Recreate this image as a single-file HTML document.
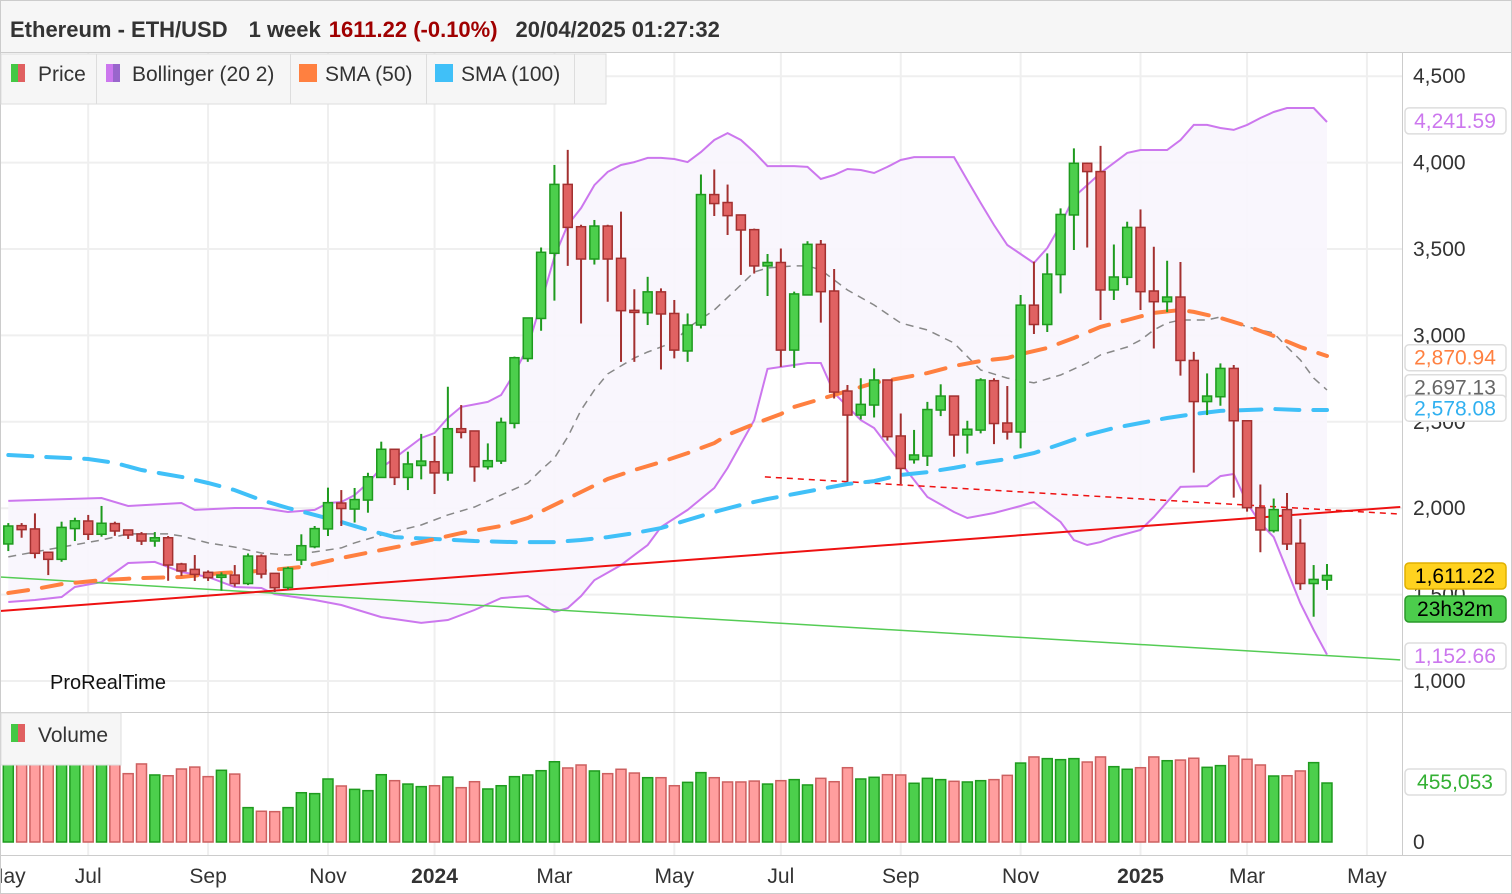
<!DOCTYPE html>
<html><head><meta charset="utf-8"><style>
html,body{margin:0;padding:0;background:#fff;}
svg{display:block;font-family:"Liberation Sans",sans-serif;}
</style></head><body>
<svg id="chart" width="1512" height="894" viewBox="0 0 1512 894" xmlns="http://www.w3.org/2000/svg">
  <rect x="0" y="0" width="1512" height="894" fill="#fff"/>
  <g id="grid"></g>
  <g id="bands"></g>
  <g id="trend"></g>
  <g id="mas"></g>
  <g id="candles"></g>
  <g id="vol"></g>
  <g id="axes"></g>

  <line x1="1402.5" y1="53" x2="1402.5" y2="856" stroke="#ccc"/>
  <line x1="0" y1="712.5" x2="1512" y2="712.5" stroke="#ccc"/>
  <line x1="0" y1="855.5" x2="1512" y2="855.5" stroke="#ccc"/>
  <rect x="0.5" y="0.5" width="1511" height="893" fill="none" stroke="#ccc"/>

  <g>
    <rect x="1" y="1" width="1510" height="51" fill="#f6f6f6"/>
    <line x1="0" y1="52.5" x2="1512" y2="52.5" stroke="#ccc"/>
    <text x="10" y="37" font-size="22" font-weight="bold" fill="#333">Ethereum - ETH/USD<tspan dx="21">1 week</tspan><tspan dx="8" fill="#a00000">1611.22 (-0.10%)</tspan><tspan dx="18">20/04/2025 01:27:32</tspan></text>
  </g>

  <g>
    <rect x="1" y="54" width="605" height="50" fill="#f6f6f6" stroke="#ddd"/>
    <g>
      <rect x="11" y="64" width="7" height="18" fill="#44c844"/><rect x="18" y="64" width="7" height="18" fill="#e06060"/>
      <text x="38" y="81" font-size="21" fill="#333">Price</text>
      <line x1="96.5" y1="54" x2="96.5" y2="104" stroke="#ddd"/>
    </g>
    <g>
      <rect x="106" y="64" width="7" height="18" fill="#cc77ee"/><rect x="113" y="64" width="7" height="18" fill="#9966cc"/>
      <text x="132" y="81" font-size="21" fill="#333">Bollinger (20 2)</text>
      <line x1="290.5" y1="54" x2="290.5" y2="104" stroke="#ddd"/>
    </g>
    <g>
      <rect x="299" y="64" width="18" height="18" fill="#ff8040"/>
      <text x="325" y="81" font-size="21" fill="#333">SMA (50)</text>
      <line x1="426.5" y1="54" x2="426.5" y2="104" stroke="#ddd"/>
    </g>
    <g>
      <rect x="435" y="64" width="18" height="18" fill="#40c0f8"/>
      <text x="461" y="81" font-size="21" fill="#333">SMA (100)</text>
      <line x1="574.5" y1="54" x2="574.5" y2="104" stroke="#ddd"/>
    </g>
  </g>

  <g>
    <rect x="1" y="713" width="120" height="52" fill="#f6f6f6" stroke="#ddd"/>
    <rect x="11" y="724" width="7" height="18" fill="#44c844"/><rect x="18" y="724" width="7" height="18" fill="#e06060"/>
    <text x="38" y="742" font-size="21" fill="#333">Volume</text>
  </g>

  <text x="50" y="689" font-size="20" fill="#111">ProRealTime</text>

  <g id="tags"></g>

<script>
const open  = [1793,1899,1880,1745,1704,1882,1926,1849,1911,1874,1851,1810,1829,1677,1646,1629,1600,1613,1564,1723,1623,1541,1700,1777,1880,2030,1995,2047,2178,2341,2178,2247,2269,2204,2460,2447,2240,2273,2491,2866,3098,3475,3874,3629,3442,3633,3446,3145,3131,3252,3127,2910,3060,3815,3769,3697,3612,3402,3422,2915,3234,3527,3257,2678,2539,2597,2742,2418,2281,2302,2568,2649,2424,2452,2738,2493,2441,3175,3063,3352,3697,3996,3948,3263,3336,3625,3257,3195,3222,2855,2617,2645,2809,2506,2003,1870,1992,1797,1564,1584];
const close = [1897,1876,1739,1704,1889,1927,1849,1913,1868,1845,1810,1829,1671,1637,1617,1598,1613,1564,1723,1619,1540,1652,1783,1882,2032,1998,2050,2182,2341,2178,2256,2273,2204,2460,2439,2240,2275,2497,2871,3101,3481,3874,3625,3442,3633,3442,3143,3133,3252,3124,2915,3060,3815,3763,3693,3610,3402,3422,2915,3240,3527,3253,2672,2539,2601,2742,2414,2230,2308,2571,2649,2424,2457,2742,2490,2441,3175,3063,3355,3700,3996,3948,3263,3338,3625,3253,3195,3222,2855,2617,2649,2809,2506,2003,1874,1992,1793,1564,1588,1611];
const high  = [1914,1914,1970,1745,1922,1945,1961,2013,1922,1874,1862,1862,1839,1684,1729,1640,1629,1671,1738,1733,1623,1661,1849,1897,2119,2105,2117,2205,2385,2341,2327,2430,2418,2703,2597,2447,2375,2524,2877,3101,3509,3986,4074,3640,3668,3640,3716,3267,3339,3272,3205,3127,3931,3960,3873,3697,3618,3471,3503,3253,3545,3552,3384,2713,2752,2809,2742,2548,2453,2615,2717,2649,2506,2752,2752,2707,3234,3427,3475,3735,4082,4000,4097,3526,3658,3729,3513,3432,3425,2905,2780,2838,2829,2506,2137,2056,2088,1937,1671,1677];
const low   = [1752,1829,1710,1613,1690,1810,1816,1835,1840,1822,1787,1777,1580,1608,1579,1579,1523,1546,1555,1594,1515,1529,1671,1768,1839,1897,1917,1974,2178,2134,2105,2167,2082,2159,2404,2153,2224,2256,2462,2847,3027,3201,3402,3069,3410,3195,2847,2847,3060,2803,2867,2847,3040,3691,3581,3350,3358,3228,2818,2812,3234,3074,2635,2153,2514,2525,2391,2140,2258,2244,2533,2298,2316,2433,2371,2397,2346,3008,3020,3243,3494,3509,3089,3205,3291,3147,2924,3135,2767,2206,2539,2593,2061,1980,1745,1859,1758,1527,1372,1527];
const volumeK = [640,640,640,640,640,640,640,640,640,527,602,517,511,563,578,504,553,524,265,237,234,265,380,373,486,432,406,396,519,473,447,427,434,501,419,465,409,434,504,517,550,619,571,594,548,527,561,532,496,496,434,460,535,496,463,463,470,447,473,481,440,491,465,573,486,499,519,517,453,491,481,468,463,473,481,514,609,656,643,635,643,617,656,581,561,573,656,627,632,646,576,589,663,638,594,509,511,548,612,455];

const bbUpperIdx = [0,7,9,13,14,17,19,21,23,24,25,26,27,28,29,31,32,33,34,36,37,38,39,40,41,42,43,44,45,46,47,48,49,50,51,52,53,54,55,56,57,58,59,60,61,62,63,64,65,66,67,68,69,70,71,72,73,74,75,76,77,78,79,80,81,82,83,84,85,86,87,88,89,90,91,92,93,94,95,96,97,98,99];
const bbUpperVal = [2042,2059,2013,2030,1990,2001,2001,1978,1990,2030,2036,2076,2146,2233,2290,2406,2435,2522,2586,2615,2655,2782,2933,3188,3454,3639,3737,3870,3946,3986,4003,4027,4027,4021,4003,4061,4131,4171,4131,4061,3980,3980,3980,3975,3905,3928,3963,3957,3940,3975,4015,4032,4032,4032,4032,3899,3766,3639,3523,3471,3419,3506,3639,3801,3870,3940,3998,4056,4073,4073,4073,4131,4218,4218,4200,4189,4218,4258,4293,4316,4316,4316,4235];
const bbLowerIdx = [0,2,4,5,7,9,11,13,15,17,19,20,21,23,25,28,31,33,35,37,39,41,42,43,44,46,48,49,51,53,54,56,57,60,61,62,64,65,67,69,71,72,74,76,77,79,80,81,82,83,85,86,88,90,91,92,93,94,95,96,97,98,99];
const bbLowerVal = [1457,1469,1486,1544,1573,1683,1689,1631,1602,1544,1538,1503,1492,1469,1440,1370,1336,1353,1411,1480,1492,1399,1422,1492,1584,1671,1787,1891,1990,2117,2233,2510,2806,2840,2840,2667,2510,2464,2262,2065,1978,1943,1972,2013,2036,1920,1816,1787,1804,1833,1874,1949,2123,2128,2186,2198,2030,1914,1833,1642,1451,1295,1153];
const bbMidIdx = [0,2,4,7,9,12,13,15,17,19,21,23,25,26,28,31,33,35,37,39,40,41,42,43,44,45,47,48,50,51,53,55,56,57,59,60,61,63,65,67,69,71,73,75,77,79,81,82,84,85,86,87,88,90,91,92,93,94,95,96,97,98,99];
const bbMidVal = [1718,1747,1775,1816,1851,1851,1839,1799,1775,1741,1729,1747,1770,1799,1845,1903,1961,2007,2076,2146,2221,2290,2412,2568,2684,2777,2869,2904,2962,3043,3147,3292,3367,3390,3402,3402,3379,3263,3176,3072,3031,2956,2800,2753,2725,2771,2840,2887,2933,2973,3031,3072,3089,3089,3107,3078,3049,3031,3014,2933,2858,2753,2684];
const sma50Idx = [0,2,4,7,10,13,16,19,22,25,28,31,34,37,39,41,43,45,47,49,51,53,54,56,58,59,61,63,65,67,69,71,73,75,76,78,80,82,84,86,88,89,91,93,95,97,99];
const sma50Val = [1509,1532,1561,1584,1596,1602,1625,1637,1660,1712,1758,1804,1856,1897,1943,2019,2094,2169,2221,2267,2319,2377,2424,2487,2545,2586,2632,2678,2725,2753,2782,2823,2852,2869,2892,2927,2985,3049,3089,3130,3147,3136,3101,3054,2997,2933,2881];
const sma100Idx = [0,3,6,8,10,13,15,17,19,21,23,25,27,29,32,35,38,41,43,45,47,49,51,53,55,57,59,61,63,65,67,69,71,73,75,77,79,81,83,85,87,89,91,93,95,97,99];
const sma100Val = [2308,2296,2285,2262,2221,2181,2146,2105,2047,2001,1961,1920,1874,1833,1822,1810,1804,1804,1816,1833,1856,1885,1932,1978,2019,2053,2082,2111,2140,2157,2192,2209,2233,2262,2285,2319,2371,2424,2464,2493,2522,2545,2563,2568,2574,2568,2568];
const redTrend = [[-0.62,1405],[104.5,2007]];
const greenTrend = [[-0.62,1602],[104.5,1122]];
const redDashTrend = [[56.8,2181],[104.5,1966]];
const priceTicks = [1000,1500,2000,2500,3000,3500,4000,4500];
const priceTickLabels = ["1,000","1,500","2,000","2,500","3,000","3,500","4,000","4,500"];
const monthTicks = [6.0,15.0,24.0,32.0,41.0,50.0,58.0,67.0,76.0,85.0,93.0,102.0];
const monthLabels = ["Jul","Sep","Nov","2024","Mar","May","Jul","Sep","Nov","2025","Mar","May"];

const NS='http://www.w3.org/2000/svg';
const X = i => 8.3 + 13.32*i;
const Y = v => 681 - (v-1000)*0.1728;
const YV = k => 842 - k/7.713;
function mk(tag, attrs, parent){const e=document.createElementNS(NS,tag);for(const k in attrs)e.setAttribute(k,attrs[k]);parent.appendChild(e);return e;}
const g = id => document.getElementById(id);

const grid=g('grid');
priceTicks.forEach(v=>{const l=mk('line',{x1:0,x2:1402,y1:Y(v),y2:Y(v),stroke:'#efefef','stroke-width':2},grid);

});
monthTicks.forEach(t=>{const l=mk('line',{x1:X(t),x2:X(t),y1:53,y2:855,stroke:'#efefef','stroke-width':2},grid);

});

const bands=g('bands');
const pts=(idx,val)=>idx.map((i,k)=>X(i).toFixed(1)+','+Y(val[k]).toFixed(1));
const fillPts=pts(bbUpperIdx,bbUpperVal).concat(pts(bbLowerIdx,bbLowerVal).reverse());
const bf=mk('polygon',{points:fillPts.join(' '),fill:'#f8f5fd',opacity:0.9},bands);


const bu=mk('polyline',{points:pts(bbUpperIdx,bbUpperVal).join(' '),fill:'none',stroke:'#cc77ee','stroke-width':2},bands);


const bl=mk('polyline',{points:pts(bbLowerIdx,bbLowerVal).join(' '),fill:'none',stroke:'#cc77ee','stroke-width':2},bands);


const bm=mk('polyline',{points:pts(bbMidIdx,bbMidVal).join(' '),fill:'none',stroke:'#888','stroke-width':1.5,'stroke-dasharray':'8 6'},bands);



const tr=g('trend');
const tl=(p,st,w,d)=>{const l=mk('line',{x1:X(p[0][0]),y1:Y(p[0][1]),x2:X(p[1][0]),y2:Y(p[1][1]),stroke:st,'stroke-width':w},tr);if(d)l.setAttribute('stroke-dasharray',d);return l;};
const t1=tl(greenTrend,'#55cc55',1.5,null);


const t2=tl(redTrend,'#ee1111',2,null);


const t3=tl(redDashTrend,'#ee1111',1.5,'6 5');



const mas=g('mas');
const m100=mk('polyline',{points:pts(sma100Idx,sma100Val).join(' '),fill:'none',stroke:'#40c0f8','stroke-width':4,'stroke-dasharray':'24 14','stroke-linecap':'round'},mas);


const m50=mk('polyline',{points:pts(sma50Idx,sma50Val).join(' '),fill:'none',stroke:'#ff8040','stroke-width':4,'stroke-dasharray':'20 14','stroke-linecap':'round'},mas);



const cg=g('candles');
open.forEach((o,i)=>{
  const c=close[i], up=c>=o, x=X(i);
  const dark=up?'#1e9a1e':'#a33030', fill=up?'#4ccf4c':'#e06262';
  const grp=mk('g',{},cg);
  
  
  mk('line',{x1:x,x2:x,y1:Y(high[i]),y2:Y(low[i]),stroke:dark,'stroke-width':2},grp);
  const top=Y(Math.max(o,c)), h=Math.max(Math.abs(Y(o)-Y(c)),2);
  mk('rect',{x:x-4.5,y:top,width:9,height:h,fill:fill,stroke:dark,'stroke-width':1.5},grp);
});

const vg=g('vol');
volumeK.forEach((k,i)=>{
  const up=close[i]>=open[i], x=X(i);
  const r=mk('rect',{x:x-5,y:YV(k),width:10,height:842-YV(k),fill:up?'#4ccf4c':'#ff9e9e',stroke:up?'#1e9a1e':'#cc6060','stroke-width':1.5},vg);
  
  
});

const ax=g('axes');
priceTicks.forEach((v,k)=>{const t=mk('text',{x:1413,y:Y(v)+7,'font-size':21,fill:'#333'},ax);t.textContent=priceTickLabels[k];

});
const z=mk('text',{x:1413,y:849,'font-size':21,fill:'#333'},ax);z.textContent='0';


const ml=mk('text',{x:-14,y:883,'font-size':21,fill:'#333'},ax);ml.textContent='May';


monthTicks.forEach((t,k)=>{const e=mk('text',{x:X(t),y:883,'font-size':21,fill:'#333','text-anchor':'middle'},ax);
if(/^\d+$/.test(monthLabels[k]))e.setAttribute('font-weight','bold');
e.textContent=monthLabels[k];

});

const tg=g('tags');
function tag(yc,label,color,bg,border,name){
  const gg=mk('g',{},tg);
  
  
  mk('rect',{x:1405,y:yc-13,width:101,height:26,rx:4,fill:bg,stroke:border,'stroke-width':1.5},gg);
  const t=mk('text',{x:1455,y:yc+7,'font-size':21,fill:color,'text-anchor':'middle'},gg);t.textContent=label;
}
tag(Y(4241.59),'4,241.59','#cc77ee','#fff','#ddd','bb-upper-tag');
tag(Y(2870.94),'2,870.94','#ff8040','#fff','#ddd','sma50-tag');
tag(Y(2697.13),'2,697.13','#666','#fff','#ddd','bb-middle-tag');
tag(Y(2578.08),'2,578.08','#30b0f0','#fff','#ddd','sma100-tag');
tag(576,'1,611.22','#000','#ffd21f','#e0b000','last-price-tag');
tag(609,'23h32m','#000','#4ccd4c','#2a9a2a','countdown-tag');
tag(656,'1,152.66','#cc77ee','#fff','#ddd','bb-lower-tag');
tag(782,'455,053','#33b033','#fff','#ddd','volume-tag');
</script>
</svg>
</body></html>
